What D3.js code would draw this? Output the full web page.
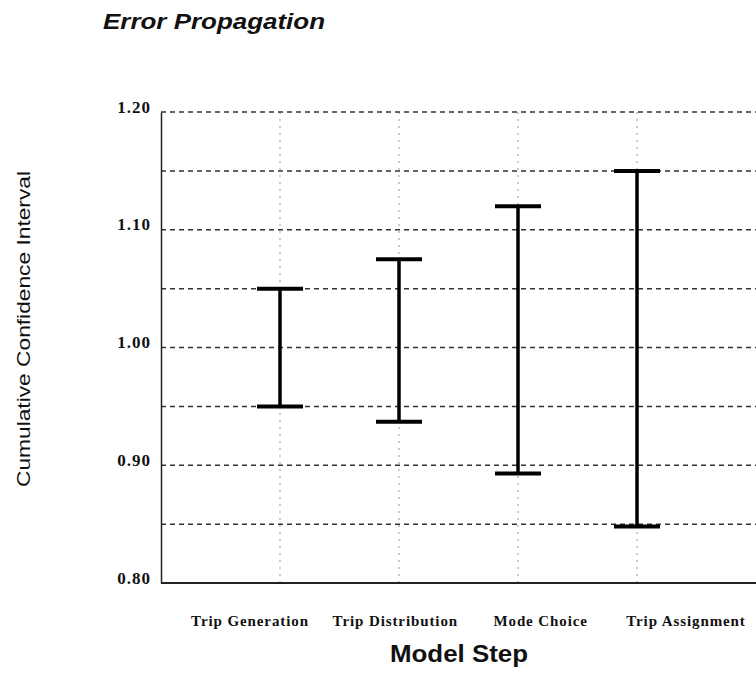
<!DOCTYPE html>
<html>
<head>
<meta charset="utf-8">
<script src="https://cdn.jsdelivr.net/npm/d3@7/dist/d3.min.js"></script>
<style>
  html, body { margin: 0; padding: 0; background: #fff; }
  svg { display: block; }
</style>
</head>
<body>
<svg id="chart" width="756" height="675"></svg>
<script>
// Model steps and the cumulative confidence interval bounds at each step
const steps = ["Trip Generation", "Trip Distribution", "Mode Choice", "Trip Assignment"];
const upper = [1.05, 1.075, 1.12, 1.15];
const lower = [0.95, 0.937, 0.893, 0.848];
const yTicks = [0.80, 0.90, 1.00, 1.10, 1.20];
const gridValues = [0.85, 0.90, 0.95, 1.00, 1.05, 1.10, 1.15, 1.20];

const svg = d3.select("#chart");
const plotLeft = 161, plotRight = 756, plotTop = 112, plotBottom = 583;

const x = d3.scaleLinear().domain([0, steps.length + 1]).range([plotLeft, plotRight]);
const y = d3.scaleLinear().domain([0.80, 1.20]).range([plotBottom, plotTop]);
// Category labels sit on their own evenly spaced row under the plot
const xLabel = d3.scalePoint().domain(steps).range([250, 686]);

const sans = "Liberation Sans, Arial, sans-serif";
const serif = "Liberation Serif, Times New Roman, serif";

// Title
svg.append("text")
  .attr("x", 103).attr("y", 29)
  .attr("font-family", sans)
  .attr("font-size", 22).attr("font-weight", "bold").attr("font-style", "italic")
  .attr("textLength", 222).attr("lengthAdjust", "spacingAndGlyphs")
  .attr("fill", "#111")
  .text("Error Propagation");

// Vertical dotted gridlines at each step
svg.append("g").selectAll("line").data(steps).join("line")
  .attr("x1", (d, i) => x(i + 1)).attr("x2", (d, i) => x(i + 1))
  .attr("y1", y(1.20)).attr("y2", y(0.80))
  .attr("stroke", "#aaa").attr("stroke-width", 1.2)
  .attr("stroke-dasharray", "2,5");

// Horizontal dashed gridlines
svg.append("g").selectAll("line").data(gridValues).join("line")
  .attr("x1", plotLeft).attr("x2", plotRight)
  .attr("y1", d => y(d)).attr("y2", d => y(d))
  .attr("stroke", "#333").attr("stroke-width", 1.5)
  .attr("stroke-dasharray", "5,4");

// Y axis: labels rest on their value line
const yAxis = d3.axisLeft(y).tickValues(yTicks).tickSize(0).tickPadding(10)
  .tickFormat(d3.format(".2f"));
const gy = svg.append("g").attr("transform", `translate(${plotLeft},0)`).call(yAxis);
gy.select(".domain").attr("stroke", "#222").attr("stroke-width", 1.5);
gy.selectAll("text")
  .attr("dy", "0")
  .attr("font-family", serif)
  .attr("font-size", 17).attr("font-weight", "bold")
  .attr("letter-spacing", 1).attr("fill", "#111");

// X axis line
svg.append("line")
  .attr("x1", plotLeft).attr("x2", plotRight)
  .attr("y1", plotBottom).attr("y2", plotBottom)
  .attr("stroke", "#222").attr("stroke-width", 2);

// Category labels
svg.append("g").selectAll("text").data(steps).join("text")
  .attr("x", d => xLabel(d)).attr("y", 626)
  .attr("text-anchor", "middle")
  .attr("font-family", serif)
  .attr("font-size", 15).attr("font-weight", "bold")
  .attr("letter-spacing", 0.9).attr("fill", "#111")
  .text(d => d);

// Axis titles
svg.append("text")
  .attr("x", 459).attr("y", 662)
  .attr("text-anchor", "middle")
  .attr("font-family", sans)
  .attr("font-size", 23).attr("font-weight", "bold")
  .attr("textLength", 138).attr("lengthAdjust", "spacingAndGlyphs")
  .attr("fill", "#111")
  .text("Model Step");

svg.append("text")
  .attr("transform", "translate(30,329) rotate(-90)")
  .attr("text-anchor", "middle")
  .attr("font-family", sans)
  .attr("font-size", 18)
  .attr("textLength", 316).attr("lengthAdjust", "spacingAndGlyphs")
  .attr("fill", "#111")
  .text("Cumulative Confidence Interval");

// Error bars
const capHalf = 23;
const bars = svg.append("g").selectAll("g").data(steps).join("g");
bars.append("line")
  .attr("x1", (d, i) => x(i + 1)).attr("x2", (d, i) => x(i + 1))
  .attr("y1", (d, i) => y(upper[i])).attr("y2", (d, i) => y(lower[i]))
  .attr("stroke", "#000").attr("stroke-width", 3.5);
bars.append("line")
  .attr("x1", (d, i) => x(i + 1) - capHalf).attr("x2", (d, i) => x(i + 1) + capHalf)
  .attr("y1", (d, i) => y(upper[i])).attr("y2", (d, i) => y(upper[i]))
  .attr("stroke", "#000").attr("stroke-width", 4);
bars.append("line")
  .attr("x1", (d, i) => x(i + 1) - capHalf).attr("x2", (d, i) => x(i + 1) + capHalf)
  .attr("y1", (d, i) => y(lower[i])).attr("y2", (d, i) => y(lower[i]))
  .attr("stroke", "#000").attr("stroke-width", 4);
</script>
</body>
</html>
